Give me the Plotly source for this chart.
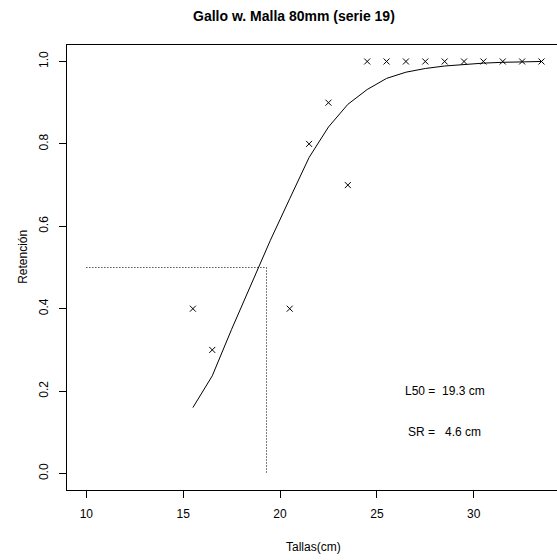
import plotly.graph_objects as go

# Observed retention
obs_x = [15.5, 16.5, 20.5, 21.5, 22.5, 23.5, 24.5, 25.5, 26.5, 27.5, 28.5, 29.5, 30.5, 31.5, 32.5, 33.5]
obs_y = [0.4, 0.3, 0.4, 0.8, 0.9, 0.7, 1.0, 1.0, 1.0, 1.0, 1.0, 1.0, 1.0, 1.0, 1.0, 1.0]

# Fitted selection curve
fit_x = [15.5, 16.5, 17.5, 18.5, 19.5, 20.5, 21.5, 22.5, 23.5, 24.5, 25.5, 26.5, 27.5, 28.5, 29.5, 30.5, 31.5, 32.5, 33.5]
fit_y = [0.16, 0.237, 0.35, 0.457, 0.566, 0.667, 0.767, 0.841, 0.896, 0.932, 0.959, 0.974, 0.983, 0.989, 0.993, 0.996, 0.998, 0.999, 1.0]

L50 = 19.3
SR = 4.6
x_ticks = [10, 15, 20, 25, 30]
y_ticks = [0.0, 0.2, 0.4, 0.6, 0.8, 1.0]
y_tick_text = ["0.0", "0.2", "0.4", "0.6", "0.8", "1.0"]

FONT = "Liberation Sans, Arial, sans-serif"

fig = go.Figure()
fig.add_trace(go.Scatter(x=obs_x, y=obs_y, mode="markers",
                         marker=dict(symbol="x-thin", size=6, color="black",
                                     line=dict(width=1, color="black")),
                         showlegend=False))
fig.add_trace(go.Scatter(x=fit_x, y=fit_y, mode="lines",
                         line=dict(color="black", width=1), showlegend=False))
# dotted L50 guides
fig.add_trace(go.Scatter(x=[10, L50], y=[0.5, 0.5], mode="lines",
                         line=dict(color="black", width=1, dash="1px,2px"), showlegend=False))
fig.add_trace(go.Scatter(x=[L50, L50], y=[0.5, 0.0], mode="lines",
                         line=dict(color="black", width=1, dash="1px,2px"), showlegend=False))

fig.add_annotation(x=28.5, y=0.2, xref="x", yref="y",
                   text="L50 =\u00a0\u00a019.3 cm", showarrow=False,
                   font=dict(family=FONT, size=12, color="black"))
fig.add_annotation(x=28.5, y=0.1, xref="x", yref="y",
                   text="SR =\u00a0\u00a0\u00a04.6 cm", showarrow=False,
                   font=dict(family=FONT, size=12, color="black"))

# Title and axis titles
fig.add_annotation(x=0.463, y=1.065, xref="paper", yref="paper",
                   text="<b>Gallo w. Malla 80mm (serie 19)</b>", showarrow=False,
                   xanchor="center", yanchor="middle",
                   font=dict(family=FONT, size=14, color="black"))
fig.add_annotation(x=0.504, y=-0.128, xref="paper", yref="paper",
                   text="Tallas(cm)", showarrow=False,
                   xanchor="center", yanchor="middle",
                   font=dict(family=FONT, size=12, color="black"))
fig.add_annotation(x=-0.0898, y=0.524, xref="paper", yref="paper",
                   text="Retención", showarrow=False, textangle=-90,
                   xanchor="center", yanchor="middle",
                   font=dict(family=FONT, size=12, color="black"))

fig.update_layout(
    width=557, height=560,
    margin=dict(l=67, r=0, t=45, b=70),
    paper_bgcolor="white", plot_bgcolor="white",
    font=dict(family=FONT, size=12, color="black"),
    xaxis=dict(range=[9, 34.30], tickvals=x_ticks, ticks="outside", ticklen=7,
               tickwidth=1, tickcolor="black", showline=True, linecolor="black",
               linewidth=1, mirror=True, showgrid=False, zeroline=False,
               tickfont=dict(size=12), ticklabelstandoff=6),
    yaxis=dict(range=[-0.04, 1.04], tickvals=y_ticks, ticktext=y_tick_text,
               ticks="outside", ticklen=7, tickwidth=1, tickcolor="black",
               showline=True, linecolor="black", linewidth=1, mirror=False,
               showgrid=False, zeroline=False, tickangle=-90,
               tickfont=dict(size=12), ticklabelstandoff=6),
)

fig.write_html("out.html")
